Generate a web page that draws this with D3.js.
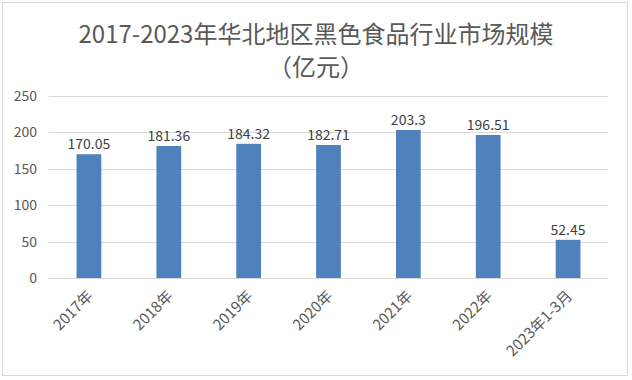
<!DOCTYPE html>
<html>
<head>
<meta charset="utf-8">
<script src="https://cdn.jsdelivr.net/npm/d3@7/dist/d3.min.js"></script>
<style>
  html, body { margin: 0; padding: 0; background: #fff; }
  text { font-family: "Noto Sans CJK SC", "Noto Sans", sans-serif; }
</style>
</head>
<body>
<svg id="chart" width="632" height="380"></svg>
<script>
const titleLines = ["2017-2023年华北地区黑色食品行业市场规模", "（亿元）"];
const categories = ["2017年", "2018年", "2019年", "2020年", "2021年", "2022年", "2023年1-3月"];
const values = [170.05, 181.36, 184.32, 182.71, 203.3, 196.51, 52.45];
const valueLabels = ["170.05", "181.36", "184.32", "182.71", "203.3", "196.51", "52.45"];
const yTicks = [0, 50, 100, 150, 200, 250];

const svg = d3.select("#chart");
const W = 632, H = 380;
const plot = { left: 49, right: 608, top: 96, bottom: 278 };

// chart border
svg.append("rect")
  .attr("x", 2.5).attr("y", 2.5)
  .attr("width", 625).attr("height", 373)
  .attr("fill", "#fff").attr("stroke", "#d9d9d9").attr("stroke-width", 1);

const x = d3.scaleBand().domain(categories).range([plot.left, plot.right]).paddingInner(0.69).paddingOuter(0.345);
const y = d3.scaleLinear().domain([0, 250]).range([plot.bottom, plot.top]);

// gridlines
const yAxis = d3.axisLeft(y).tickValues(yTicks).tickSize(-(plot.right - plot.left)).tickPadding(12);
const gy = svg.append("g").attr("transform", `translate(${plot.left},0)`).call(yAxis);
gy.select(".domain").remove();
gy.selectAll(".tick line").attr("stroke", "#d9d9d9").attr("shape-rendering", "crispEdges");
gy.selectAll(".tick text").attr("fill", "#595959").style("font-size", "14px").attr("x", -12);

// bars
svg.append("g").selectAll("rect").data(values).join("rect")
  .attr("x", (d, i) => x(categories[i]))
  .attr("y", d => y(d))
  .attr("width", x.bandwidth())
  .attr("height", d => y(0) - y(d))
  .attr("fill", "#4f81bd");

// value labels
svg.append("g").selectAll("text").data(values).join("text")
  .attr("x", (d, i) => x(categories[i]) + x.bandwidth() / 2)
  .attr("y", d => y(d) - 5)
  .attr("text-anchor", "middle")
  .attr("fill", "#404040")
  .style("font-size", "14px")
  .text((d, i) => valueLabels[i]);

// x axis labels
const xAxis = d3.axisBottom(x).tickSize(0).tickPadding(0);
const gx = svg.append("g").attr("transform", `translate(0,${plot.bottom})`).call(xAxis);
gx.select(".domain").remove();
gx.selectAll(".tick text")
  .attr("fill", "#595959")
  .style("font-size", "15px")
  .attr("text-anchor", "end")
  .attr("dy", null)
  .attr("y", 0)
  .attr("transform", "translate(5,19) rotate(-45)");

// title
svg.append("g").selectAll("text").data(titleLines).join("text")
  .attr("x", 316)
  .attr("y", (d, i) => 43 + i * 33)
  .attr("text-anchor", "middle")
  .attr("fill", "#595959")
  .style("font-size", "24px")
  .text(d => d);
</script>
</body>
</html>
